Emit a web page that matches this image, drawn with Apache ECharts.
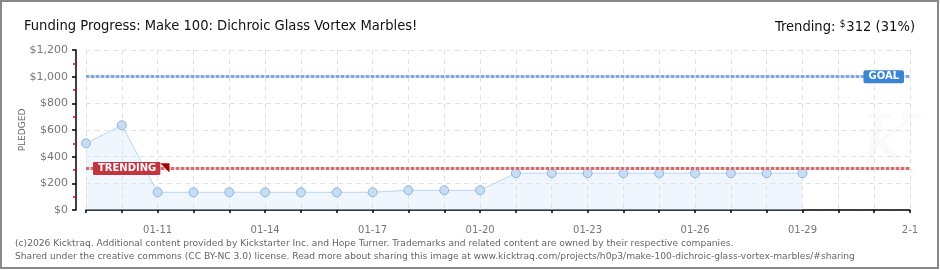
<!DOCTYPE html>
<html><head><meta charset="utf-8">
<script src="https://cdn.jsdelivr.net/npm/echarts@6/dist/echarts.min.js"></script>
<style>html,body{margin:0;padding:0;background:#fff}#c{width:940px;height:270px}</style>
</head><body><div id="c"></div>
<script>
var dates = ['01-09','01-10','01-11','01-12','01-13','01-14','01-15','01-16','01-17','01-18','01-19','01-20','01-21','01-22','01-23','01-24','01-25','01-26','01-27','01-28','01-29','01-30','01-31','2-1'];
var pledged = [500, 635, 133, 133, 133, 133, 133, 133, 133, 148, 148, 148, 276, 276, 276, 276, 276, 276, 276, 276, 276];
var goal = 1000;
var trending = 312;
var trendingPct = 31;
var titleText = 'Funding Progress: Make 100: Dichroic Glass Vortex Marbles!';
var footer1 = '(c)2026 Kicktraq. Additional content provided by Kickstarter Inc. and Hope Turner. Trademarks and related content are owned by their respective companies.';
var footer2 = 'Shared under the creative commons (CC BY-NC 3.0) license. Read more about sharing this image at www.kicktraq.com/projects/h0p3/make-100-dichroic-glass-vortex-marbles/#sharing';

var chart = echarts.init(document.getElementById('c'), null, {renderer: 'canvas'});
var labelFont = 'DejaVu Sans';
var titleFont = 'DejaVu Sans Condensed';
chart.setOption({
  animation: false,
  backgroundColor: '#fff',
  title: [
    {text: titleText, left: 19, top: 14, textStyle: {fontFamily: titleFont, fontSize: 14.6, fontWeight: 'normal', color: '#111'}},
    {text: '{a|Trending: }{s|$}{a|' + trending + ' (' + trendingPct + '%)}', right: 20, top: 14,
     textStyle: {fontWeight: 'normal', rich: {a: {fontFamily: titleFont, fontSize: 14.6, fontWeight: 'normal', color: '#111'}, s: {fontFamily: titleFont, fontSize: 10, fontWeight: 'normal', color: '#111', padding: [0, 1, 7, 0]}}}},
    {text: footer1 + '\n' + footer2, left: 10, top: 232, textStyle: {fontFamily: 'DejaVu Sans', fontSize: 9.15, fontWeight: 'normal', color: '#666', lineHeight: 13}}
  ],
  graphic: [
    {type: 'rect', shape: {x: 1, y: 1, width: 937, height: 267}, style: {fill: 'none', stroke: '#888', lineWidth: 2}, silent: true},
    {type: 'text', left: 858, top: 112, style: {text: 'K', font: 'italic 80px DejaVu Serif', fill: 'rgba(0,0,0,0.02)'}, silent: true}
  ],
  grid: {left: 86, right: 30, top: 50, bottom: 60},
  xAxis: {
    type: 'category', data: dates, boundaryGap: false, offset: 10,
    axisLine: {lineStyle: {color: '#000', width: 1.5}},
    axisTick: {show: true, interval: 0, length: 3, lineStyle: {color: '#000', width: 1.5}},
    axisLabel: {interval: function (i) { return i >= 2 && (i - 2) % 3 === 0; }, fontFamily: labelFont, fontSize: 10, color: '#777', margin: 5},
    splitLine: {show: true, interval: 0, lineStyle: {color: '#e2e2e2', type: [5, 4]}}
  },
  yAxis: {
    type: 'value', min: 0, max: 1200, interval: 200, offset: 10,
    name: 'PLEDGED', nameLocation: 'middle', nameGap: 49, nameRotate: 90, nameMoveOverlap: false,
    nameTextStyle: {fontFamily: labelFont, fontSize: 9, color: '#666'},
    axisLine: {show: true, lineStyle: {color: '#000', width: 1.5}},
    axisTick: {show: true, length: 4, lineStyle: {color: '#000', width: 1.5}},
    minorTick: {show: true, splitNumber: 2, length: 3, lineStyle: {color: '#e00', width: 1.5}},
    axisLabel: {fontFamily: labelFont, fontSize: 11, color: '#777', margin: 8,
      formatter: function (v) { return '$' + v.toLocaleString('en-US'); }},
    splitLine: {show: true, lineStyle: {color: '#e2e2e2', type: [5, 4]}}
  },
  series: [
    {type: 'line', data: pledged, symbol: 'circle', symbolSize: 9,
     lineStyle: {color: '#b9d5f2', width: 1},
     itemStyle: {color: '#c6ddf6', borderColor: '#94b3d8', borderWidth: 1},
     areaStyle: {color: 'rgba(214,232,250,0.55)'},
     markLine: {symbol: 'none', silent: true, animation: false,
       data: [
         {yAxis: goal, lineStyle: {color: '#c8daf0', type: 'solid', width: 3}, label: {show: false}},
         {yAxis: goal, lineStyle: {color: '#7ea8dc', type: [3, 2], width: 3},
          label: {show: true, position: 'insideEnd', distance: 6, formatter: 'GOAL', color: '#fff', fontFamily: labelFont, fontWeight: 'bold', fontSize: 10,
                  backgroundColor: '#3a86d4', borderRadius: 2, padding: [2, 5, 1, 5]}},
         {yAxis: trending, lineStyle: {color: '#efc6c6', type: 'solid', width: 3}, label: {show: false}},
         {yAxis: trending, lineStyle: {color: '#cf6d72', type: [3, 2], width: 3},
          label: {show: true, position: 'insideStart', distance: 7,
                  formatter: '{b|TRENDING}{t|◥}',
                  rich: {b: {color: '#fff', fontFamily: labelFont, fontWeight: 'bold', fontSize: 10, backgroundColor: '#c2343e', padding: [2, 4, 1, 5], borderRadius: 1},
                         t: {color: '#a80000', fontSize: 12, fontFamily: labelFont, padding: [0, 0, 2, 0]}}}}
       ]}
    }
  ]
});
</script></body></html>
